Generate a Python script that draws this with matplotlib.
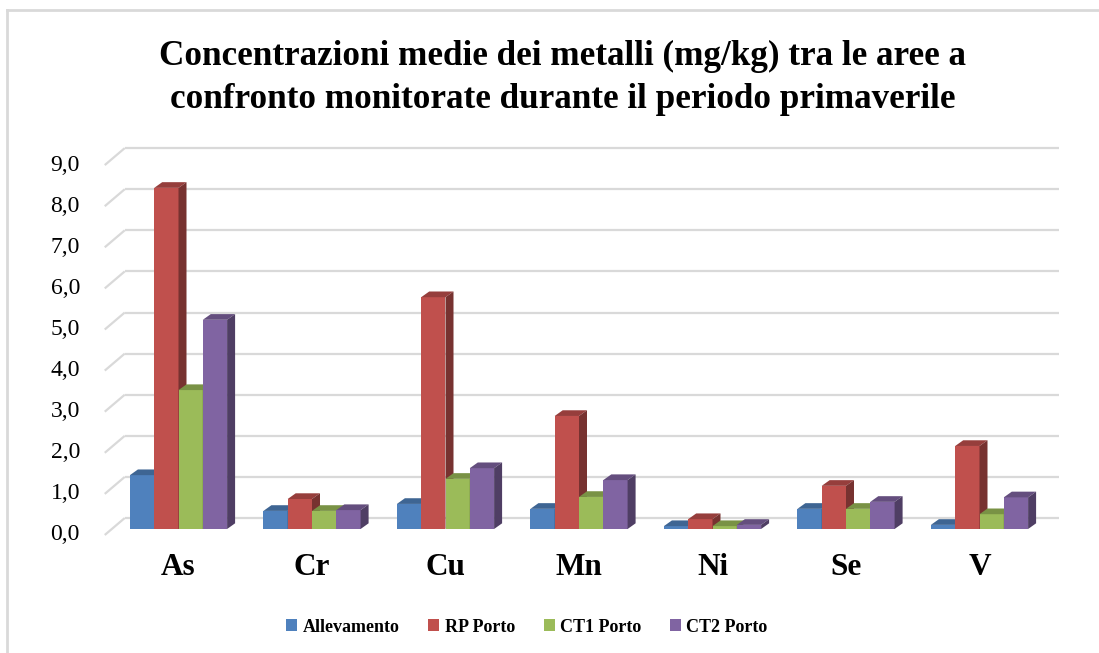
import matplotlib
matplotlib.use("Agg")
import matplotlib.pyplot as plt
import numpy as np
from matplotlib.patches import Polygon, Rectangle
from matplotlib.lines import Line2D
from matplotlib.colors import to_rgb

plt.rcParams["font.family"] = ["Liberation Serif", "DejaVu Serif"]

# dati (mg/kg)
categories = ["As", "Cr", "Cu", "Mn", "Ni", "Se", "V"]
series = ["Allevamento", "RP Porto", "CT1 Porto", "CT2 Porto"]
allevamento = [1.31, 0.44, 0.61, 0.49, 0.07, 0.49, 0.10]
rp_porto = [8.30, 0.73, 5.64, 2.75, 0.24, 1.05, 2.02]
ct1_porto = [3.38, 0.44, 1.22, 0.78, 0.07, 0.49, 0.36]
ct2_porto = [5.09, 0.46, 1.48, 1.19, 0.10, 0.66, 0.77]
values = [allevamento, rp_porto, ct1_porto, ct2_porto]
colors = ["#4F81BD", "#C0504D", "#9BBB59", "#8064A2"]
yticks = np.arange(0, 10, 1)

title = ("Concentrazioni medie dei metalli (mg/kg) tra le aree a\n"
         "confronto monitorate durante il periodo primaverile")

W, H = 1099, 653
fig = plt.figure(figsize=(W / 100, H / 100), dpi=100)

# scala in pixel: 1 categoria = 133.5 px, 1 unita' = 41.1 px
px_x = 133.5
px_y = 41.1
x0_px, y0_px = 178.5, 529.0
xlim = (-0.6, 6.7)
ylim = (-0.2, 9.5)
left = (x0_px + xlim[0] * px_x) / W
right = (x0_px + xlim[1] * px_x) / W
bottom = 1 - (y0_px - ylim[0] * px_y) / H
top = 1 - (y0_px - ylim[1] * px_y) / H
ax = fig.add_axes([left, bottom, right - left, top - bottom])
ax.set_xlim(*xlim)
ax.set_ylim(*ylim)
ax.axis("off")

# profondita' parete (front/back) rispetto al piano barre
fdx, fdy = -7 / px_x, -6 / px_y
bdx, bdy = 13 / px_x, 11 / px_y
grid_c = "#D9D9D9"
for v in yticks:
    ax.plot([-0.5 + fdx, -0.5 + bdx], [v + fdy, v + bdy],
            color=grid_c, lw=1.6, zorder=1, solid_capstyle="butt")
    ax.plot([-0.5 + bdx, 6.5 + bdx], [v + bdy, v + bdy],
            color=grid_c, lw=1.6, zorder=1, solid_capstyle="butt")
    ax.text(-0.738, v + fdy, f"{v:.1f}".replace(".", ","),
            ha="right", va="center", fontsize=17, clip_on=False)


def shade(c, f):
    r, g, b = to_rgb(c)
    return (r * f, g * f, b * f)


# barre pseudo-3D
bw = 0.182
ddx, ddy = 8 / px_x, 5.7 / px_y
x = np.arange(len(categories))
z = 2
for i in range(len(categories)):
    for j, (vals, c) in enumerate(zip(values, colors)):
        xl = x[i] + (j - 2) * bw
        v = vals[i]
        ax.bar(xl, v, width=bw, align="edge", color=c, zorder=z,
               edgecolor="none")
        topf = Polygon([(xl, v), (xl + bw, v), (xl + bw + ddx, v + ddy),
                        (xl + ddx, v + ddy)], closed=True,
                       facecolor=shade(c, 0.78), edgecolor="none", zorder=z)
        side = Polygon([(xl + bw, 0), (xl + bw, v), (xl + bw + ddx, v + ddy),
                        (xl + bw + ddx, ddy)], closed=True,
                       facecolor=shade(c, 0.62), edgecolor="none", zorder=z)
        ax.add_patch(topf)
        ax.add_patch(side)
        z += 1

# etichette categorie
for i, cat in enumerate(categories):
    ax.text(x[i], -0.93, cat, ha="center", va="center", fontsize=22.5,
            fontweight="bold", clip_on=False)

fig.text(0.512, 1 - 78 / H, title, ha="center", va="center", fontsize=25.3,
         fontweight="bold", linespacing=1.4)

handles = [Rectangle((0, 0), 1, 1, facecolor=c) for c in colors]
fig.legend(handles, series, loc="center", bbox_to_anchor=(527 / W, 1 - 627 / H),
           ncol=4, frameon=False, prop={"size": 13, "weight": "bold"},
           handlelength=0.6, handleheight=0.6, handletextpad=0.3,
           columnspacing=1.6)

# bordo grafico
fig.add_artist(Line2D([7 / W, 7 / W], [0, 1 - 10 / H], color=grid_c, lw=2,
                      transform=fig.transFigure))
fig.add_artist(Line2D([7 / W, 1], [1 - 10 / H, 1 - 10 / H], color=grid_c,
                      lw=2, transform=fig.transFigure))

fig.savefig("out.png", dpi=100)
